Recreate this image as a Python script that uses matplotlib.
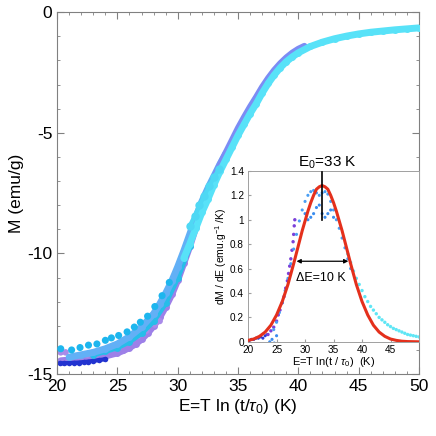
#!/usr/bin/env python3
"""Scaling plot M vs E = T ln(t/tau0), with dM/dE inset."""

import matplotlib

matplotlib.use("Agg")
import matplotlib.pyplot as plt  # noqa: E402

plt.rcParams["font.family"] = ["Liberation Sans", "DejaVu Sans"]
plt.rcParams["mathtext.fontset"] = "custom"
plt.rcParams["mathtext.rm"] = "Liberation Sans"
plt.rcParams["mathtext.it"] = "Liberation Sans:italic"
plt.rcParams["axes.unicode_minus"] = False

# ---- main panel: M (emu/g) vs E (K) ----
E_dark = [20.2, 20.6, 21.0, 21.4, 21.8, 22.2, 22.6, 23.0, 23.5, 24.0]
M_dark = [-14.55, -14.55, -14.54, -14.53, -14.52, -14.5, -14.48, -14.45, -14.42, -14.38]

E_purple = [20.3, 21, 22, 23, 24, 25, 25.5, 26, 26.5, 27, 27.5, 28, 28.5, 29, 29.5, 30, 30.5, 31, 31.5]
M_purple = [-14.45, -14.42, -14.38, -14.32, -14.25, -14.12, -14.02, -13.9, -13.75, -13.55, -13.3,
            -13.0, -12.65, -12.2, -11.7, -11.1, -10.4, -9.7, -8.9]

E_lav = [20.3, 20.7, 21.1, 21.8, 22.5, 23.2, 23.9, 24.6, 25.3, 26.0, 26.7, 27.4, 28.1, 28.5]
M_lav = [-14.1, -14.1, -14.3, -14.25, -14.2, -14.12, -14.05, -13.95, -13.8, -13.62, -13.42, -13.2, -12.95, -12.8]

E_sky = [23, 24, 25, 26, 27, 28, 29, 30, 31]
M_sky = [-14.2, -14.05, -13.9, -13.65, -13.3, -12.8, -12.05, -11.0, -9.7]

E_skydots = [20.3, 21.2, 21.9, 22.6, 23.3, 24.0, 24.5, 25.1, 25.8, 26.4, 26.9, 27.5, 28.1, 28.7, 29.3]
M_skydots = [-13.95, -14.0, -13.9, -13.8, -13.75, -13.6, -13.5, -13.4, -13.25, -13.05, -12.85,
             -12.6, -12.2, -11.75, -11.2]

E_light = [21, 22, 23, 24, 25, 26, 27, 28, 28.5, 29, 29.5, 30, 30.5, 31, 31.5, 32, 32.5, 33, 33.5, 34]
M_light = [-14.3, -14.2, -14.1, -13.95, -13.75, -13.45, -13.05, -12.5, -12.1, -11.65, -11.15, -10.55,
           -9.9, -9.2, -8.5, -7.85, -7.3, -6.8, -6.3, -5.85]

E_corn = [33, 33.5, 34, 34.5, 35, 35.5, 36, 36.5, 37, 37.5, 38, 38.5, 39, 39.5, 40, 40.5]
M_corn = [-6.85, -6.3, -5.8, -5.3, -4.8, -4.35, -3.92, -3.52, -3.1, -2.73, -2.4, -2.12, -1.88, -1.68,
          -1.52, -1.4]

E_cyan = [30.5, 31, 31.5, 32, 32.5, 33, 33.5, 34, 34.5, 35, 35.5, 36, 36.5, 37, 37.5, 38, 38.5, 39,
          39.5, 40, 41, 42, 43, 44, 45, 46, 47, 48, 49, 50]
M_cyan = [-10.2, -9.6, -8.95, -8.3, -7.75, -7.15, -6.6, -6.1, -5.6, -5.1, -4.65, -4.2, -3.8, -3.35,
          -2.95, -2.6, -2.3, -2.05, -1.85, -1.68, -1.42, -1.24, -1.1, -0.99, -0.9, -0.83, -0.78,
          -0.73, -0.69, -0.65]

E_cyan2 = [31.0, 31.4, 31.8, 32.2, 32.6, 33.0, 33.4]
M_cyan2 = [-8.85, -8.45, -8.0, -7.6, -7.2, -6.85, -6.5]

# ---- inset: dM/dE vs E ----
e_dark = [20.2, 20.6, 21.0, 21.4, 21.8, 22.2, 22.6, 23.0, 23.4]
d_dark = [0.01, 0.02, 0.02, 0.03, 0.03, 0.04, 0.03, 0.05, 0.06]

e_purple = [23.5, 24, 24.5, 25, 25.3, 25.6, 26, 26.3, 26.6, 26.9, 27.1, 27.3, 27.5, 27.7, 27.9, 28.0,
            28.1, 28.2]
d_purple = [0.06, 0.09, 0.12, 0.17, 0.22, 0.26, 0.32, 0.37, 0.44, 0.5, 0.56, 0.62, 0.68, 0.75, 0.82,
            0.88, 0.95, 1.0]

e_blue = [24.5, 25, 25.5, 26, 26.5, 27, 27.5, 28, 28.5, 29, 29.5, 30, 30.5, 31, 31.5, 32, 32.5, 33,
          33.5, 34, 34.5, 35, 35.5, 36, 36.5, 37, 37.5, 38]
d_blue = [0.1, 0.16, 0.24, 0.32, 0.42, 0.52, 0.64, 0.76, 0.88, 0.99, 1.08, 1.15, 1.2, 1.23, 1.24, 1.22,
          1.2, 1.22, 1.23, 1.21, 1.15, 1.08, 1.0, 0.93, 0.85, 0.77, 0.68, 0.6]

e_blue2 = [23.8, 24.2, 24.6, 25.0, 30, 30.5, 31, 31.5, 32, 32.5, 33, 33.5, 34, 34.5, 35]
d_blue2 = [0.0, 0.02, -0.01, 0.05, 1.05, 1.0, 1.02, 1.05, 1.1, 1.12, 1.05, 1.02, 1.05, 1.08, 1.02]

e_cyan = [37.5, 38, 38.5, 39, 39.5, 40, 40.5, 41, 41.5, 42, 42.5, 43, 43.5, 44, 44.5, 45, 45.5, 46,
          46.5, 47, 47.5, 48, 48.5, 49, 49.5, 50]
d_cyan = [0.72, 0.65, 0.58, 0.52, 0.47, 0.42, 0.37, 0.33, 0.29, 0.26, 0.23, 0.2, 0.18, 0.16, 0.14,
          0.125, 0.11, 0.1, 0.09, 0.08, 0.07, 0.06, 0.055, 0.05, 0.045, 0.04]

# gaussian fit (E0 = 33 K, FWHM = 10 K)
e_fit = [20, 21, 22, 23, 24, 25, 26, 27, 28, 28.5, 29, 29.5, 30, 30.5, 31, 31.5, 32, 32.5, 33, 33.5,
         34, 34.5, 35, 35.5, 36, 36.5, 37, 37.5, 38, 39, 40, 41, 42, 43, 44, 45, 46, 47, 48, 49, 50]
d_fit = [0.012, 0.023, 0.045, 0.08, 0.136, 0.22, 0.33, 0.47, 0.64, 0.73, 0.82, 0.91, 0.99, 1.07, 1.14,
         1.2, 1.25, 1.27, 1.28, 1.27, 1.25, 1.2, 1.14, 1.07, 0.99, 0.91, 0.82, 0.73, 0.64, 0.47, 0.33,
         0.22, 0.136, 0.08, 0.045, 0.023, 0.012, 0.005, 0.002, 0.001, 0.0]

E0 = 33
FWHM_LO, FWHM_HI, FWHM_Y = 28.5, 37.6, 0.66


def band(ax, x, y, color, lw=5, ms=5, z=2):
    ax.plot(x, y, "-o", color=color, lw=lw, ms=ms, solid_capstyle="round",
            solid_joinstyle="round", mec="none", zorder=z)


fig = plt.figure(figsize=(4.36, 4.36), dpi=100)
ax = fig.add_axes([0.131, 0.142, 0.83, 0.83])

band(ax, E_purple, M_purple, "#9d80e8", lw=5)
ax.scatter(E_lav, M_lav, s=22, color="#a98be9", edgecolors="none", zorder=2)
band(ax, E_dark, M_dark, "#2233d0", lw=3, ms=4)
band(ax, E_sky, M_sky, "#27bde9", lw=4)
ax.scatter(E_skydots, M_skydots, s=26, color="#1db6ee", edgecolors="none", zorder=3)
band(ax, E_light, M_light, "#62b0f6", lw=5)
band(ax, E_corn, M_corn, "#7c8cf4", lw=4.5, ms=4)
band(ax, E_cyan, M_cyan, "#58e2f8", lw=5, z=3)
band(ax, E_cyan2, M_cyan2, "#4fd8f4", lw=3, ms=6, z=3)

ax.set_xlim(20, 50)
ax.set_ylim(-15, 0)
ax.set_xticks(range(20, 51, 5))
ax.set_yticks([-15, -10, -5, 0])
ax.set_xticks(range(20, 51), minor=True)
ax.set_yticks(range(-15, 1), minor=True)
ax.tick_params(which="both", direction="in", top=True, right=True, color="#808080",
               labelsize=12.5)
ax.tick_params(which="major", length=5)
ax.tick_params(which="minor", length=2.5)
for sp in ax.spines.values():
    sp.set_color("#808080")
    sp.set_linewidth(0.8)
ax.set_xlabel(r"E=T ln (t/$\tau_0$) (K)", fontsize=12.5, labelpad=2)
ax.set_ylabel("M (emu/g)", fontsize=12.5, labelpad=2)

# inset
ins = fig.add_axes([0.569, 0.216, 0.392, 0.392])
ins.set_facecolor("white")
ins.scatter(e_dark, d_dark, s=5, color="#2a3ad6", edgecolors="none", zorder=2)
ins.scatter(e_purple, d_purple, s=6, color="#7b41d9", edgecolors="none", zorder=2)
ins.scatter(e_blue, d_blue, s=5, color="#4a9ff4", edgecolors="none", zorder=2)
ins.scatter(e_blue2, d_blue2, s=5, color="#3a8cee", edgecolors="none", zorder=2)
ins.scatter(e_cyan, d_cyan, s=6, color="#5fe6f5", edgecolors="none", zorder=2)
ins.plot(e_fit, d_fit, color="#e4301c", lw=2.2, zorder=3)
ins.plot([E0, E0], [1.0, 1.39], color="black", lw=1.2, zorder=4, clip_on=False)
ins.annotate("", xy=(FWHM_LO, FWHM_Y), xytext=(FWHM_HI, FWHM_Y),
             arrowprops=dict(arrowstyle="<|-|>", color="black", lw=0.9,
                             mutation_scale=6, shrinkA=0, shrinkB=0), zorder=5)
ins.text(32.8, 0.52, "ΔE=10 K", ha="center", va="center", fontsize=9)
ins.text(34.0, 1.40, r"E$_0$=33 K", ha="center", va="bottom", fontsize=11)

ins.set_xlim(20, 50)
ins.set_ylim(0, 1.4)
ins.set_xticks(range(20, 46, 5))
ins.set_yticks([0, 0.2, 0.4, 0.6, 0.8, 1.0, 1.2, 1.4])
ins.set_yticklabels(["0", "0.2", "0.4", "0.6", "0.8", "1", "1.2", "1.4"])
ins.tick_params(direction="in", length=2, color="#a0a0a0", labelsize=7.2)
ins.tick_params(axis="x", pad=2.5)
ins.tick_params(axis="y", pad=3)
for sp in ins.spines.values():
    sp.set_color("#a0a0a0")
    sp.set_linewidth(0.7)
ins.set_xlabel(r"E=T ln(t / $\tau_0$)  (K)", fontsize=8, labelpad=0)
ins.set_ylabel(r"dM / dE (emu.g$^{-1}$ /K)", fontsize=7.5, labelpad=1)

fig.savefig("out.png", dpi=100)
